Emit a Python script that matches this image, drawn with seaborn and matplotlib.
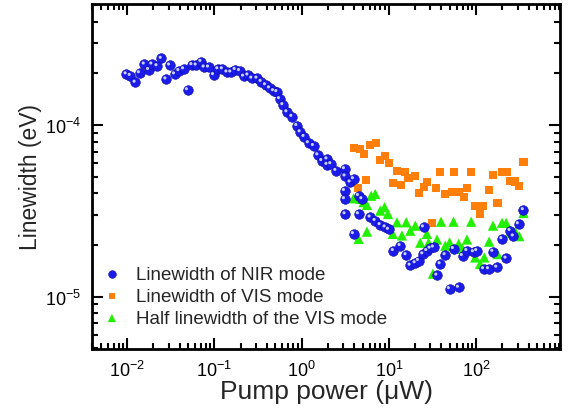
import matplotlib
matplotlib.use("Agg")
import matplotlib.pyplot as plt
import matplotlib.transforms as mtransforms
import seaborn as sns

sns.set_style("ticks")
plt.rcParams['font.family'] = ['Liberation Sans', 'DejaVu Sans']
plt.rcParams['mathtext.default'] = 'regular'

# =========================
#  DATA
# =========================

nir_power = [0.0098, 0.0109, 0.0124, 0.0139, 0.0158, 0.0177, 0.0193, 0.0221, 0.0247, 0.028,
             0.0308, 0.0351, 0.0394, 0.0445, 0.0494, 0.0556, 0.0622, 0.0705, 0.0768, 0.0861,
             0.0982, 0.110, 0.124, 0.140, 0.155, 0.174, 0.195, 0.217, 0.243, 0.270,
             0.309, 0.345, 0.387, 0.430, 0.478, 0.522, 0.560, 0.612, 0.681, 0.776,
             0.885, 0.966, 1.07, 1.20, 1.37, 1.54, 1.71, 1.96, 1.96, 2.17, 2.48,
             3.11, 3.16, 3.61, 3.94, 3.11, 3.11, 4.50, 4.92, 3.16, 4.50,
             6.12, 6.98, 7.97, 9.10, 9.93, 3.94, 11.3, 13.5, 15.8, 17.6,
             20.1, 21.9, 24.6, 27.3, 29.8, 32.5, 25.0, 35.6, 38.8, 44.3,
             49.6, 63.0, 55.1, 69.8, 78.5, 93.4, 102, 122, 139, 156,
             173, 198, 221, 246, 268, 306, 349]
nir_width = [1.98e-4, 1.94e-4, 1.77e-4, 2.01e-4, 2.26e-4, 2.10e-4, 2.26e-4, 2.21e-4, 2.44e-4, 1.85e-4,
             2.23e-4, 1.98e-4, 2.07e-4, 2.12e-4, 1.60e-4, 2.24e-4, 2.23e-4, 2.34e-4, 2.17e-4, 2.17e-4,
             1.96e-4, 2.12e-4, 2.12e-4, 2.03e-4, 2.03e-4, 2.10e-4, 2.07e-4, 1.92e-4, 1.95e-4, 1.87e-4,
             1.87e-4, 1.79e-4, 1.71e-4, 1.64e-4, 1.58e-4, 1.56e-4, 1.42e-4, 1.31e-4, 1.19e-4, 1.12e-4,
             9.9e-5, 9.1e-5, 8.55e-5, 7.86e-5, 7.57e-5, 6.68e-5, 6.19e-5, 6.33e-5, 5.88e-5, 5.93e-5, 5.42e-5,
             5.55e-5, 5.03e-5, 4.64e-5, 4.85e-5, 4.14e-5, 3.71e-5, 3.87e-5, 3.71e-5, 3.03e-5, 3.03e-5,
             2.90e-5, 2.77e-5, 2.62e-5, 2.54e-5, 2.46e-5, 2.32e-5, 1.85e-5, 1.98e-5, 1.75e-5, 1.52e-5,
             1.57e-5, 1.62e-5, 1.77e-5, 1.85e-5, 1.91e-5, 1.94e-5, 2.54e-5, 1.33e-5, 1.55e-5, 1.75e-5,
             1.11e-5, 1.13e-5, 1.90e-5, 1.73e-5, 1.85e-5, 1.82e-5, 1.85e-5, 1.45e-5, 1.45e-5, 1.83e-5,
             1.48e-5, 2.17e-5, 1.67e-5, 2.42e-5, 2.25e-5, 2.65e-5, 3.20e-5]

vis_power = [3.94, 4.70, 5.13, 6.12, 7.11, 7.97, 8.93, 9.93, 12.4, 15.4,
             16.8, 20.1, 11.1, 13.9, 5.51, 4.43, 21.9, 27.3, 25.0, 34.9,
             38.8, 44.3, 52.8, 56.2, 63.0, 71.8, 78.5, 87.9, 97.7, 111,
             120, 140, 156, 176, 198, 225, 246, 281, 312, 349, 31.2]
vis_width = [7.31e-5, 7.25e-5, 6.78e-5, 7.65e-5, 7.82e-5, 6.25e-5, 6.62e-5, 5.98e-5, 5.42e-5, 5.35e-5,
             4.89e-5, 5.07e-5, 4.59e-5, 4.47e-5, 4.80e-5, 4.28e-5, 4.00e-5, 4.64e-5, 4.34e-5, 4.28e-5,
             5.35e-5, 3.96e-5, 4.05e-5, 5.35e-5, 4.05e-5, 3.79e-5, 4.28e-5, 5.35e-5, 3.36e-5, 3.03e-5,
             3.36e-5, 4.20e-5, 5.12e-5, 3.52e-5, 5.35e-5, 5.35e-5, 4.74e-5, 4.68e-5, 4.40e-5, 6.06e-5, 2.69e-5]

half_power = [3.94, 4.70, 5.13, 5.61, 6.28, 6.98, 4.50, 5.61, 7.97, 8.93,
              9.77, 11.1, 12.4, 14.1, 15.8, 17.6, 20.1, 22.9, 27.3, 28.5,
              32.0, 35.6, 39.6, 44.3, 49.6, 55.1, 63.0, 69.8, 78.5, 87.9,
              97.7, 111, 124, 141, 156, 176, 198, 221, 246, 281, 312, 349]
half_width = [3.74e-5, 3.71e-5, 3.55e-5, 3.42e-5, 3.87e-5, 3.96e-5, 2.17e-5, 2.39e-5, 3.17e-5, 3.32e-5,
              3.03e-5, 2.32e-5, 2.71e-5, 2.27e-5, 2.71e-5, 2.42e-5, 2.59e-5, 2.06e-5, 2.32e-5, 2.06e-5,
              1.36e-5, 2.15e-5, 2.73e-5, 1.98e-5, 2.07e-5, 2.73e-5, 2.03e-5, 1.90e-5, 2.15e-5, 2.73e-5,
              1.69e-5, 1.55e-5, 1.69e-5, 2.09e-5, 2.59e-5, 1.77e-5, 2.69e-5, 2.69e-5, 2.35e-5, 2.39e-5,
              2.25e-5, 3.07e-5]

labels = ['Linewidth of NIR mode', 'Linewidth of VIS mode', 'Half linewidth of the VIS mode']
colors = ['#1c1cea', '#ff7f0a', '#22f000']

# =========================
#  PLOT
# =========================

fig = plt.figure(figsize=(5.69, 4.14), dpi=100)
ax = fig.add_axes([0.162, 0.155, 0.822, 0.833])

sns.scatterplot(x=vis_power, y=vis_width, ax=ax, marker='s', s=34, color=colors[1],
                edgecolor='none', label=labels[1], zorder=2)
sns.scatterplot(x=half_power, y=half_width, ax=ax, marker='^', s=55, color=colors[2],
                edgecolor='none', label=labels[2], zorder=3)
sns.scatterplot(x=nir_power, y=nir_width, ax=ax, marker='o', s=48, color=colors[0],
                edgecolor='#0c0ca0', linewidth=0.4, label=labels[0], zorder=4)

# little highlight to mimic the shaded spheres
shine = mtransforms.offset_copy(ax.transData, fig=fig, x=-1.2, y=1.2, units='dots')
ax.scatter(nir_power, nir_width, s=5, color='#c8d0ff', edgecolor='none', transform=shine, zorder=5)

ax.set_xscale('log')
ax.set_yscale('log')
ax.set_xlim(10 ** -2.4, 10 ** 2.96)
ax.set_ylim(4.96e-6, 5.07e-4)

ax.set_xlabel('Pump power (μW)', fontsize=19, labelpad=-1)
ax.set_ylabel('Linewidth (eV)', fontsize=16.5, labelpad=2)

ax.tick_params(which='both', direction='in', top=True, right=True, width=1.5, colors='black')
ax.tick_params(which='major', length=8, labelsize=13, pad=8)
ax.tick_params(which='minor', length=4)
for sp in ax.spines.values():
    sp.set_linewidth(2)
    sp.set_color('black')

handles, labs = ax.get_legend_handles_labels()
order = [labs.index(l) for l in labels]
ax.legend([handles[i] for i in order], [labs[i] for i in order], loc='lower left',
          bbox_to_anchor=(-0.01, 0.02), frameon=False, fontsize=13.5, markerscale=0.8,
          handlelength=1.0, handletextpad=0.8, labelspacing=0.27, borderpad=0.3)

fig.savefig('out.png', dpi=100)
plt.close(fig)
